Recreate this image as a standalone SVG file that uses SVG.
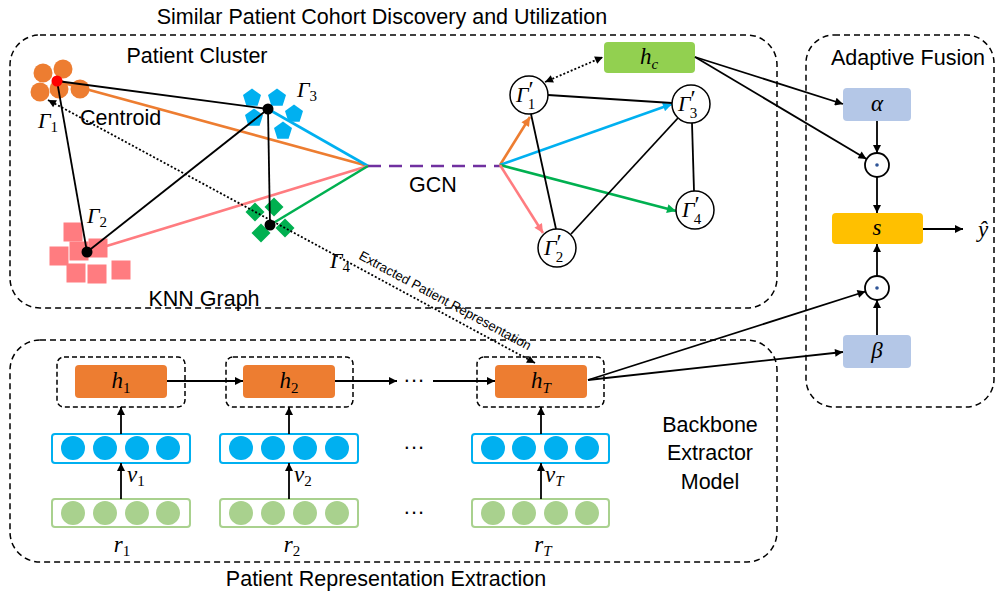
<svg xmlns="http://www.w3.org/2000/svg" width="997" height="595" viewBox="0 0 997 595">
<style>
.t{font-family:"Liberation Sans",Arial,sans-serif;font-size:21.5px;fill:#000}
.m{font-family:"Liberation Serif","Times New Roman",serif;font-style:italic;font-size:23px;fill:#000}
.g{font-family:"Liberation Serif","Times New Roman",serif;font-style:italic;font-size:22px;fill:#000}
.s{font-size:15px;font-style:normal}
.si{font-size:15px;font-style:italic}
.pr{font-size:24px;font-style:normal}
.box{fill:none;stroke:#000;stroke-width:1.5;stroke-dasharray:6 4}
.hb{fill:none;stroke:#000;stroke-width:1.5;stroke-dasharray:5 3}
.k{stroke:#000;stroke-width:1.8;fill:none}
.ka{stroke:#000;stroke-width:1.8;fill:none;marker-end:url(#ak)}
.dot{stroke:#000;stroke-width:1.8;stroke-dasharray:2 2;fill:none}
.vr{fill:#fff;stroke:#00b0f0;stroke-width:2}
.vc{fill:#00b0f0}
.rr{fill:#fff;stroke:#a9d18e;stroke-width:2}
.rc{fill:#a9d18e}
.gn{fill:#fff;stroke:#000;stroke-width:1.5}
.op{fill:#fff;stroke:#000;stroke-width:1.8}
</style>
<defs>
<marker id="ak" viewBox="0 0 10 10" refX="10" refY="5" markerWidth="9" markerHeight="8" orient="auto-start-reverse" markerUnits="userSpaceOnUse"><path d="M0,0 L10,5 L0,10 z" fill="#000"/></marker>
<marker id="ao" viewBox="0 0 10 10" refX="10" refY="5" markerWidth="10" markerHeight="9" orient="auto" markerUnits="userSpaceOnUse"><path d="M0,0 L10,5 L0,10 z" fill="#ed7d31"/></marker>
<marker id="ab" viewBox="0 0 10 10" refX="10" refY="5" markerWidth="10" markerHeight="9" orient="auto" markerUnits="userSpaceOnUse"><path d="M0,0 L10,5 L0,10 z" fill="#00b0f0"/></marker>
<marker id="ag" viewBox="0 0 10 10" refX="10" refY="5" markerWidth="10" markerHeight="9" orient="auto" markerUnits="userSpaceOnUse"><path d="M0,0 L10,5 L0,10 z" fill="#00b050"/></marker>
<marker id="ap" viewBox="0 0 10 10" refX="10" refY="5" markerWidth="10" markerHeight="9" orient="auto" markerUnits="userSpaceOnUse"><path d="M0,0 L10,5 L0,10 z" fill="#ff7c80"/></marker>
<polygon id="pent" points="0,-9.5 9,-2.9 5.6,7.7 -5.6,7.7 -9,-2.9" fill="#00b0f0"/>
<polygon id="dia" points="0,-9.5 9.5,0 0,9.5 -9.5,0" fill="#00b050"/>
<rect id="sq" x="-9.5" y="-9.5" width="19" height="19" fill="#ff7c80"/>
<circle id="oc" r="9.5" fill="#ed7d31"/>
</defs>

<!-- section boxes and titles -->
<text class="t" x="382" y="24" text-anchor="middle" font-size="22">Similar Patient Cohort Discovery and Utilization</text>
<rect class="box" x="10" y="35" width="767" height="273" rx="30"/>
<text class="t" x="197" y="63" text-anchor="middle">Patient Cluster</text>
<text class="t" x="204" y="306" text-anchor="middle">KNN Graph</text>
<rect class="box" x="10" y="340" width="767" height="222" rx="30"/>
<text class="t" x="386" y="586" text-anchor="middle">Patient Representation Extraction</text>
<rect class="box" x="806" y="35" width="188" height="372" rx="28"/>
<text class="t" x="908" y="65" text-anchor="middle">Adaptive Fusion</text>
<text class="t" x="710" y="432" text-anchor="middle">Backbone</text>
<text class="t" x="710" y="460" text-anchor="middle">Extractor</text>
<text class="t" x="710" y="489" text-anchor="middle">Model</text>

<!-- clusters -->
<g id="cluster1">
<use href="#oc" x="43" y="73"/><use href="#oc" x="63" y="69"/><use href="#oc" x="40" y="92"/><use href="#oc" x="59" y="89"/><use href="#oc" x="80" y="89"/>
<text class="g" x="38" y="128">Γ<tspan class="s" dy="4">1</tspan></text>
<text class="t" x="80" y="125">Centroid</text>
</g>
<g id="cluster3">
<use href="#pent" x="252" y="98"/><use href="#pent" x="277" y="98"/><use href="#pent" x="254" y="118"/><use href="#pent" x="294" y="114"/><use href="#pent" x="283" y="131"/>
<text class="g" x="297" y="97">Γ<tspan class="s" dy="4">3</tspan></text>
</g>
<g id="cluster2">
<use href="#sq" x="73" y="232"/><use href="#sq" x="59" y="256"/><use href="#sq" x="79" y="251"/><use href="#sq" x="98" y="248"/><use href="#sq" x="76" y="273"/><use href="#sq" x="97" y="274"/><use href="#sq" x="121" y="270"/>
<text class="g" x="87" y="223">Γ<tspan class="s" dy="4">2</tspan></text>
</g>
<g id="cluster4">
<use href="#dia" x="255" y="212"/><use href="#dia" x="274" y="207"/><use href="#dia" x="261" y="233"/><use href="#dia" x="285" y="228"/>
<text class="g" x="330" y="268">Γ<tspan class="s" dy="4">4</tspan></text>
</g>

<!-- fusion nodes -->
<g id="alpha"><rect x="843" y="88" width="68" height="33" rx="4" fill="#b4c7e7"/><text class="m" x="877" y="111" text-anchor="middle">α</text></g>
<g id="beta"><rect x="843" y="335" width="68" height="33" rx="4" fill="#b4c7e7"/><text class="m" x="877" y="358" text-anchor="middle">β</text></g>
<g id="s"><rect x="832" y="213" width="91" height="31" rx="4" fill="#ffc000"/><text class="m" x="877" y="235" text-anchor="middle">s</text></g>
<g id="mul1"><circle class="op" cx="877" cy="165" r="12"/><circle cx="877" cy="165" r="1.8" fill="#2f5597"/></g>
<g id="mul2"><circle class="op" cx="877" cy="288" r="12"/><circle cx="877" cy="288" r="1.8" fill="#2f5597"/></g>
<g id="yhat"><text class="m" x="983" y="237" text-anchor="middle" font-size="25">ŷ</text></g>
<g id="hc"><rect x="604" y="42" width="91" height="31" rx="4" fill="#92d050"/><text class="m" x="649" y="64" text-anchor="middle">h<tspan class="si" dy="5">c</tspan></text></g>

<!-- backbone -->
<g id="h1"><rect class="hb" x="57" y="357" width="128" height="50" rx="7"/><rect x="75" y="365" width="92" height="33" rx="4" fill="#ed7d31"/><text class="m" x="121" y="388" text-anchor="middle">h<tspan class="s" dy="5">1</tspan></text></g>
<g id="h2"><rect class="hb" x="226" y="357" width="127" height="50" rx="7"/><rect x="243" y="365" width="92" height="33" rx="4" fill="#ed7d31"/><text class="m" x="289" y="388" text-anchor="middle">h<tspan class="s" dy="5">2</tspan></text></g>
<g id="hT"><rect class="hb" x="477" y="357" width="127" height="50" rx="7"/><rect x="495" y="365" width="92" height="33" rx="4" fill="#ed7d31"/><text class="m" x="541" y="388" text-anchor="middle">h<tspan class="si" dy="5">T</tspan></text></g>
<g id="v1"><rect class="vr" x="52" y="434" width="138" height="29" rx="3"/><circle class="vc" cx="73" cy="448" r="12"/><circle class="vc" cx="105" cy="448" r="12"/><circle class="vc" cx="137" cy="448" r="12"/><circle class="vc" cx="168" cy="448" r="12"/><text class="m" x="127" y="482">v<tspan class="s" dy="4">1</tspan></text></g>
<g id="v2"><rect class="vr" x="220" y="434" width="138" height="29" rx="3"/><circle class="vc" cx="241" cy="448" r="12"/><circle class="vc" cx="273" cy="448" r="12"/><circle class="vc" cx="305" cy="448" r="12"/><circle class="vc" cx="337" cy="448" r="12"/><text class="m" x="294" y="482">v<tspan class="s" dy="4">2</tspan></text></g>
<g id="vT"><rect class="vr" x="472" y="434" width="137" height="29" rx="3"/><circle class="vc" cx="493" cy="448" r="12"/><circle class="vc" cx="524" cy="448" r="12"/><circle class="vc" cx="556" cy="448" r="12"/><circle class="vc" cx="587" cy="448" r="12"/><text class="m" x="545" y="482">v<tspan class="si" dy="4">T</tspan></text></g>
<g id="r1"><rect class="rr" x="52" y="499" width="138" height="28" rx="3"/><circle class="rc" cx="73" cy="513" r="12"/><circle class="rc" cx="105" cy="513" r="12"/><circle class="rc" cx="137" cy="513" r="12"/><circle class="rc" cx="168" cy="513" r="12"/><text class="m" x="122" y="552" text-anchor="middle">r<tspan class="s" dy="4">1</tspan></text></g>
<g id="r2"><rect class="rr" x="220" y="499" width="138" height="28" rx="3"/><circle class="rc" cx="241" cy="513" r="12"/><circle class="rc" cx="273" cy="513" r="12"/><circle class="rc" cx="305" cy="513" r="12"/><circle class="rc" cx="337" cy="513" r="12"/><text class="m" x="292" y="552" text-anchor="middle">r<tspan class="s" dy="4">2</tspan></text></g>
<g id="rT"><rect class="rr" x="472" y="499" width="137" height="28" rx="3"/><circle class="rc" cx="493" cy="513" r="12"/><circle class="rc" cx="524" cy="513" r="12"/><circle class="rc" cx="556" cy="513" r="12"/><circle class="rc" cx="587" cy="513" r="12"/><text class="m" x="543" y="552" text-anchor="middle">r<tspan class="si" dy="4">T</tspan></text></g>
<g id="ellipses">
<text class="t" x="414" y="387" text-anchor="middle">···</text>
<text class="t" x="414" y="454" text-anchor="middle">···</text>
<text class="t" x="414" y="519" text-anchor="middle">···</text>
</g>

<!-- connectors -->
<g id="connectors">
<line x1="60" y1="82" x2="368" y2="166" stroke="#ed7d31" stroke-width="2.6"/>
<line x1="268" y1="109" x2="368" y2="166" stroke="#00b0f0" stroke-width="2.6"/>
<line x1="87" y1="252" x2="368" y2="166" stroke="#ff7c80" stroke-width="2.6"/>
<line x1="270" y1="225" x2="368" y2="166" stroke="#00b050" stroke-width="2.6"/>
<line class="k" x1="57" y1="81" x2="268" y2="109"/>
<line class="k" x1="57" y1="81" x2="87" y2="252"/>
<line class="k" x1="87" y1="252" x2="268" y2="109"/>
<line class="k" x1="268" y1="109" x2="270" y2="225"/>
<line x1="368" y1="166" x2="500" y2="166" stroke="#7030a0" stroke-width="2.6" stroke-dasharray="13 8"/>
<line x1="500" y1="165" x2="530" y2="117" stroke="#ed7d31" stroke-width="2.6" marker-end="url(#ao)"/>
<line x1="500" y1="165" x2="672" y2="104" stroke="#00b0f0" stroke-width="2.6" marker-end="url(#ab)"/>
<line x1="500" y1="165" x2="676" y2="211" stroke="#00b050" stroke-width="2.6" marker-end="url(#ag)"/>
<line x1="500" y1="165" x2="543" y2="233" stroke="#ff7c80" stroke-width="2.6" marker-end="url(#ap)"/>
<line class="k" x1="548" y1="95" x2="672" y2="103"/>
<line class="k" x1="531" y1="114" x2="556" y2="229"/>
<line class="k" x1="571" y1="234" x2="678" y2="118"/>
<line class="k" x1="692" y1="123" x2="694" y2="191"/>
<line class="dot" x1="545" y1="82" x2="603" y2="57" marker-start="url(#ak)" marker-end="url(#ak)"/>
<line class="dot" x1="535" y1="363" x2="48" y2="100" marker-start="url(#ak)" marker-end="url(#ak)"/>
<line class="ka" x1="695" y1="57" x2="843" y2="104"/>
<line class="ka" x1="695" y1="57" x2="866.5" y2="159"/>
<line class="ka" x1="877" y1="121" x2="877" y2="153"/>
<line class="ka" x1="877" y1="177" x2="877" y2="213"/>
<line class="ka" x1="923" y1="229" x2="963" y2="229"/>
<line class="ka" x1="877" y1="335" x2="877" y2="300"/>
<line class="ka" x1="877" y1="276" x2="877" y2="244"/>
<line class="ka" x1="588" y1="380" x2="865.5" y2="291.5"/>
<line class="ka" x1="588" y1="380" x2="843" y2="352"/>
<line class="ka" x1="167" y1="381" x2="243" y2="381"/>
<line class="ka" x1="335" y1="381" x2="397" y2="381"/>
<line class="ka" x1="433" y1="381" x2="495" y2="381"/>
<line class="ka" x1="121" y1="434" x2="121" y2="407"/>
<line class="ka" x1="121" y1="499" x2="121" y2="463"/>
<line class="ka" x1="289" y1="434" x2="289" y2="407"/>
<line class="ka" x1="289" y1="499" x2="289" y2="463"/>
<line class="ka" x1="541" y1="434" x2="541" y2="407"/>
<line class="ka" x1="541" y1="499" x2="541" y2="463"/>
<text x="358" y="258.5" transform="rotate(28.4 358 258.5)" font-family="Liberation Sans,Arial,sans-serif" font-size="13.2" fill="#000">Extracted Patient Representation</text>
</g>

<!-- centroid dots and GCN label -->
<g id="centroids">
<circle cx="57" cy="81" r="5.5" fill="#ff0000"/>
<circle cx="268" cy="109" r="5.5" fill="#000"/>
<circle cx="87" cy="252" r="5.5" fill="#000"/>
<circle cx="270" cy="225" r="5.5" fill="#000"/>
</g>
<text class="t" x="433" y="192" text-anchor="middle">GCN</text>

<!-- GCN output nodes -->
<g id="g1p"><circle class="gn" cx="529" cy="95" r="19" stroke="#ff0000"/><text class="g" x="516" y="102">Γ<tspan class="pr" dy="-5">′</tspan><tspan class="s" dx="-6" dy="12">1</tspan></text></g>
<g id="g3p"><circle class="gn" cx="691" cy="104" r="19"/><text class="g" x="678" y="111">Γ<tspan class="pr" dy="-5">′</tspan><tspan class="s" dx="-6" dy="12">3</tspan></text></g>
<g id="g4p"><circle class="gn" cx="695" cy="210" r="19"/><text class="g" x="682" y="217">Γ<tspan class="pr" dy="-5">′</tspan><tspan class="s" dx="-6" dy="12">4</tspan></text></g>
<g id="g2p"><circle class="gn" cx="557" cy="248" r="19"/><text class="g" x="544" y="255">Γ<tspan class="pr" dy="-5">′</tspan><tspan class="s" dx="-6" dy="12">2</tspan></text></g>
</svg>
